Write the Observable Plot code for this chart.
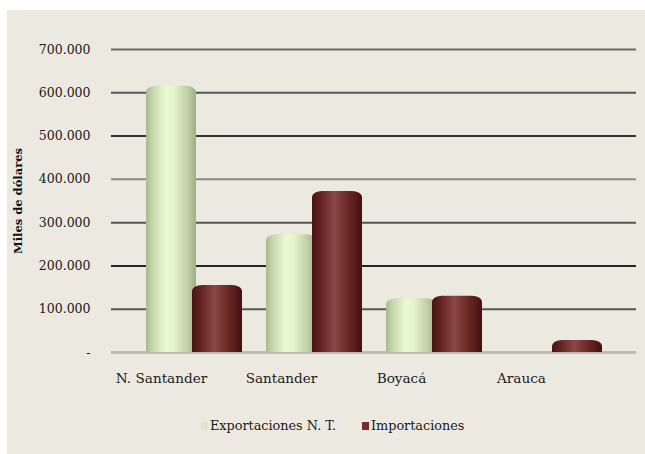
<!DOCTYPE html>
<html>
<head>
<meta charset="utf-8">
<script src="https://cdn.jsdelivr.net/npm/d3@7"></script>
<script src="https://cdn.jsdelivr.net/npm/@observablehq/plot@0.6"></script>
<style>
  html, body { margin: 0; padding: 0; background: #ffffff; }
  #wrap { position: relative; width: 645px; height: 454px; overflow: hidden; }
  #bg { position: absolute; left: 7px; top: 10px; right: 0; bottom: 0; background: #eceae0; }
  #chart { position: absolute; left: 0; top: 0; }
  #legend { position: absolute; left: 0; top: 418px; width: 645px; font-family: "DejaVu Serif", serif; font-size: 12.8px; color: #1a1a1a; }
  .item { position: absolute; top: 0; display: flex; align-items: center; }
  .sw { width: 7px; height: 8px; margin-right: 2px; }
</style>
</head>
<body>
<div id="wrap">
  <div id="bg"></div>
  <div id="chart"></div>
  <div id="legend"></div>
</div>
<script>
const categories = ["N. Santander", "Santander", "Boyacá", "Arauca"];
const seriesNames = ["Exportaciones N. T.", "Importaciones"];
const exportaciones = [615000, 272000, 124000, 0];
const importaciones = [155000, 372000, 130000, 28000];
const yTicks = [0, 100000, 200000, 300000, 400000, 500000, 600000, 700000];
const yAxisTitle = "Miles de dólares";

const rows = [];
categories.forEach((c, i) => {
  rows.push({state: c, series: seriesNames[0], value: exportaciones[i]});
  rows.push({state: c, series: seriesNames[1], value: importaciones[i]});
});
const expRows = rows.filter(d => d.series === seriesNames[0]);
const impRows = rows.filter(d => d.series === seriesNames[1]);

const gridColors = ["#6a6a6a", "#555", "#333", "#8a8a8a", "#555", "#262626", "#555"];
const gridRows = yTicks.filter(v => v > 0).reverse().map((v, i) => ({v, c: gridColors[i % gridColors.length]}));

const fmt = v => v === 0 ? "-" : d3.format(",")(v).replace(/,/g, ".");
const font = "DejaVu Serif, serif";

const chart = Plot.plot({
  width: 645,
  height: 410,
  marginLeft: 111,
  marginRight: 9,
  marginTop: 49,
  marginBottom: 58,
  style: {background: "transparent", fontFamily: font, fontSize: "12.5px", color: "#1a1a1a"},
  x: {type: "band", domain: categories, range: [133, 615], paddingInner: 0.2, paddingOuter: 0.1, label: null},
  y: {domain: [0, 700000], ticks: yTicks, label: null},
  marks: [
    Plot.ruleY(gridRows, {y: "v", stroke: "c", strokeWidth: 2}),
    Plot.ruleY([0], {stroke: "#bdbbb5", strokeWidth: 3}),
    Plot.axisY({ticks: yTicks, tickFormat: fmt, tickSize: 0, tickPadding: 21, label: null, fontSize: 12.5}),
    Plot.axisX({tickSize: 0, tickPadding: 21, dx: -33, label: null, fontSize: 13.6}),
    Plot.barY(expRows, {x: "state", y: "value", insetRight: 46, fill: "url(#gExp)", rx: 10, ry: 6}),
    Plot.barY(expRows, {x: "state", y1: 0, y2: d => d.value / 2, insetRight: 46, fill: "url(#gExp)"}),
    Plot.barY(impRows, {x: "state", y: "value", insetLeft: 46, fill: "url(#gImp)", rx: 10, ry: 6}),
    Plot.barY(impRows, {x: "state", y1: 0, y2: d => d.value / 2, insetLeft: 46, fill: "url(#gImp)"}),
    Plot.text([yAxisTitle], {frameAnchor: "left", dx: -93, rotate: -90, textAnchor: "middle", text: d => d, fontWeight: "bold", fontSize: 11.5, fill: "#111"})
  ]
});

const svg = d3.select(chart);
const defs = svg.insert("defs", ":first-child");
const g1 = defs.append("linearGradient").attr("id", "gExp").attr("x1", "0").attr("x2", "1").attr("y1", "0").attr("y2", "0");
[["0%", "#a9b98f"], ["12%", "#c5d4ab"], ["40%", "#eafad2"], ["55%", "#e6f6cc"], ["85%", "#bccba2"], ["100%", "#9fae86"]]
  .forEach(([o, c]) => g1.append("stop").attr("offset", o).attr("stop-color", c));
const g2 = defs.append("linearGradient").attr("id", "gImp").attr("x1", "0").attr("x2", "1").attr("y1", "0").attr("y2", "0");
[["0%", "#4a1414"], ["15%", "#602020"], ["45%", "#8c4848"], ["60%", "#7a3434"], ["88%", "#561a1a"], ["100%", "#421010"]]
  .forEach(([o, c]) => g2.append("stop").attr("offset", o).attr("stop-color", c));

document.getElementById("chart").appendChild(chart);

const legend = document.getElementById("legend");
const swColors = ["#dce9c6", "#7a2b2b"];
const legendX = [201, 362];
seriesNames.forEach((s, i) => {
  const it = document.createElement("div");
  it.className = "item";
  it.style.left = legendX[i] + "px";
  const sw = document.createElement("span");
  sw.className = "sw";
  sw.style.background = swColors[i];
  const tx = document.createElement("span");
  tx.textContent = s;
  it.appendChild(sw);
  it.appendChild(tx);
  legend.appendChild(it);
});
</script>
</body>
</html>
